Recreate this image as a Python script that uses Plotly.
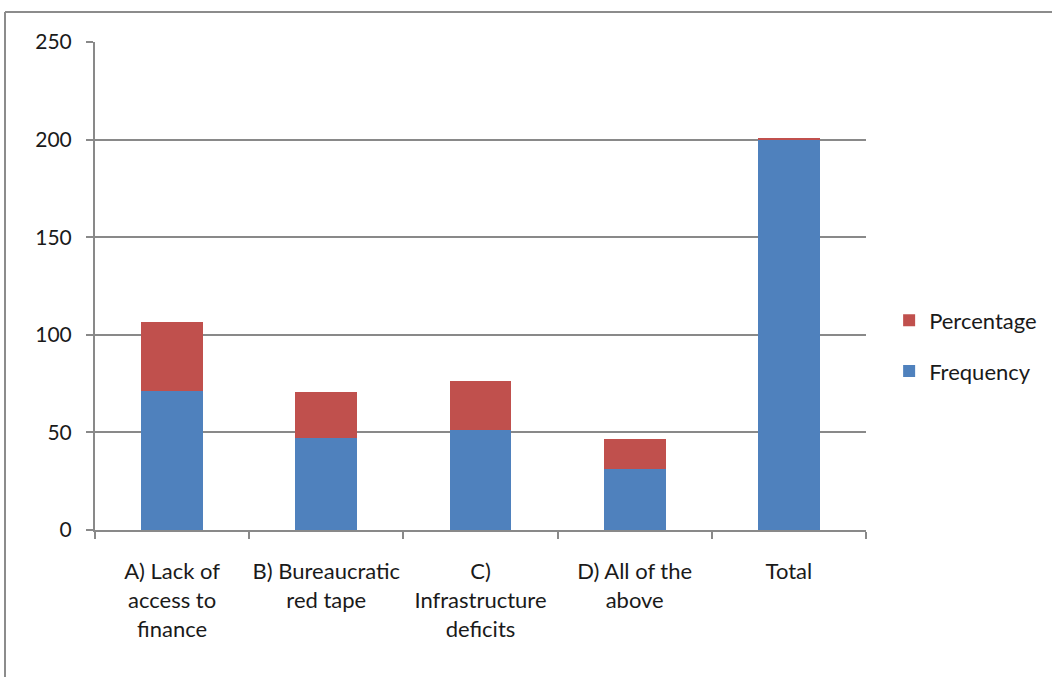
import plotly.graph_objects as go

categories = ["A) Lack of<br>access to<br>finance", "B) Bureaucratic<br>red tape",
              "C)<br>Infrastructure<br>deficits", "D) All of the<br>above", "Total"]
frequency = [71, 47, 51, 31, 200]
percentage = [35.5, 23.5, 25.5, 15.5, 1]
y_ticks = [0, 50, 100, 150, 200, 250]

FONT = "Lato"
GRID = "#898989"

fig = go.Figure()
fig.add_trace(go.Bar(x=categories, y=frequency, name="Frequency",
                     marker=dict(color="#4F81BD", line=dict(width=0)),
                     legendgroup="f", legendrank=2))
fig.add_trace(go.Bar(x=categories, y=percentage, name="Percentage",
                     marker=dict(color="#C0504D", line=dict(width=0)),
                     legendgroup="p", legendrank=1))

fig.update_layout(
    width=1052, height=677,
    barmode="stack", bargap=0.6,
    paper_bgcolor="white", plot_bgcolor="white",
    margin=dict(l=95, r=186, t=42, b=147, autoexpand=False),
    font=dict(family=FONT, size=22, color="#1a1a1a"),
    legend=dict(x=1.03, y=0.377, xanchor="left", yanchor="middle",
                traceorder="grouped", tracegroupgap=19,
                font=dict(size=22), itemwidth=30),
    showlegend=True,
)
fig.update_xaxes(showline=True, linecolor=GRID, linewidth=2, automargin=False, tickangle=0,
                 ticks="outside", tickson="boundaries", ticklen=7, tickcolor=GRID, tickwidth=2,
                 ticklabelstandoff=21, showgrid=False, tickfont=dict(size=22))
fig.update_yaxes(range=[0, 250], tickvals=y_ticks, showline=True, linecolor=GRID, linewidth=2,
                 automargin=False,
                 ticks="outside", ticklen=7, tickcolor=GRID, tickwidth=2,
                 showgrid=True, gridcolor=GRID, gridwidth=2, zeroline=False,
                 ticklabelstandoff=10, tickfont=dict(size=21))

# outer chart border (top and left edges visible)
px_w, px_h = 771, 488
x_left = (5 - 95) / px_w
x_right = (1052 - 95) / px_w
y_top = (530 - 12) / px_h
y_bottom = (530 - 677) / px_h
fig.add_shape(type="line", xref="paper", yref="paper", x0=x_left, x1=x_right, y0=y_top, y1=y_top,
              line=dict(color="#8c8c8c", width=2))
fig.add_shape(type="line", xref="paper", yref="paper", x0=x_left, x1=x_left, y0=y_top, y1=y_bottom,
              line=dict(color="#8c8c8c", width=2))

fig.write_html("out.html", config={"displayModeBar": False},
               post_script="document.body.style.margin='0px';document.body.style.overflow='hidden';")
